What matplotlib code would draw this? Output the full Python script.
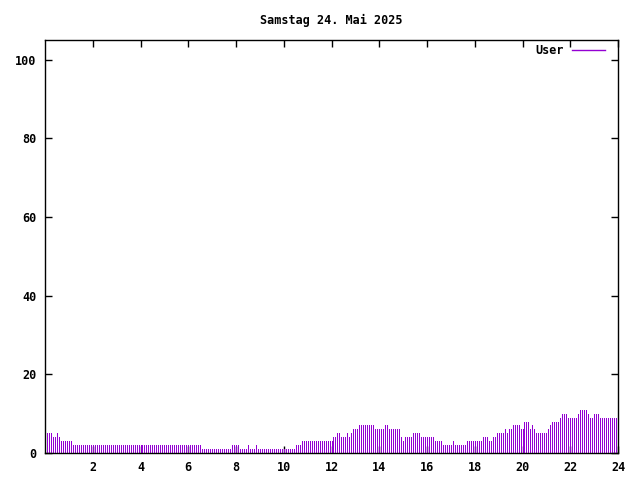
import matplotlib
matplotlib.use("Agg")
import matplotlib.pyplot as plt
from matplotlib.lines import Line2D
import numpy as np

# 5-minute samples, index i -> minute 5*i (0:00 .. 23:55)
user_values = (
    [5, 5, 5, 5, 4, 4, 5, 4] + [3] * 6 + [2] * 65 + [1] * 15 + [2] * 4 + [1] * 4
    + [2] + [1] * 3 + [2] + [1] * 19 + [2] * 3 + [3] * 16 + [4] * 2 + [5] * 2
    + [4] * 3 + [5] + [4] + [5] + [6] * 3 + [7] * 8 + [6] * 5 + [7] * 2 + [6] * 6
    + [4] + [3] + [4] * 4 + [5] * 4 + [4] * 7 + [3] * 4 + [2] * 5 + [3] + [2] * 6
    + [3] * 8 + [4] * 3 + [3] * 2 + [4] * 2 + [5] * 4 + [6] + [5] + [6] * 2
    + [7] * 4 + [6] * 2 + [8] * 3 + [6] + [7] + [6] + [5] * 6 + [6] + [7]
    + [8] * 4 + [9] + [10] * 3 + [9] * 5 + [10] + [11] * 4 + [10] + [9] * 2
    + [10] * 3 + [9] * 9
)
minutes = [5 * i for i in range(len(user_values))]
hours = [m / 60.0 for m in minutes]

title = "Samstag 24. Mai 2025"
series_label = "User"
x_ticks = [2, 4, 6, 8, 10, 12, 14, 16, 18, 20, 22, 24]
y_ticks = [0, 20, 40, 60, 80, 100]
color = "#9400D3"

plt.rcParams['font.family'] = ['DejaVu Sans Mono']
plt.rcParams['font.weight'] = 'bold'
fs = 8.5
fig = plt.figure(figsize=(6.4, 4.8), dpi=100)
ax = fig.add_axes([45 / 640, 1 - 453 / 480, 573 / 640, 413 / 480])
ax.vlines(hours, 0, user_values, color=color, linewidth=0.72, antialiased=False)
ax.set_xlim(0, 24)
ax.set_ylim(0, 105)
ax.set_xticks(x_ticks)
ax.set_yticks(y_ticks)
ax.tick_params(direction='in', length=5, width=1, top=True, right=True,
               labelsize=fs, pad=6, color='black')
for s in ax.spines.values():
    s.set_linewidth(1)
fig.text(331.5 / 640, 1 - 20 / 480, title, ha='center', va='center',
         fontsize=fs, fontweight='bold')
# legend (key) at top right, text then line sample
fig.text(564 / 640, 1 - 50 / 480, series_label, ha='right', va='center',
         fontsize=fs, fontweight='bold')
fig.add_artist(Line2D([572 / 640, 605 / 640], [1 - 50 / 480, 1 - 50 / 480],
                      color=color, linewidth=1, transform=fig.transFigure))
fig.savefig("out.png", dpi=100)
